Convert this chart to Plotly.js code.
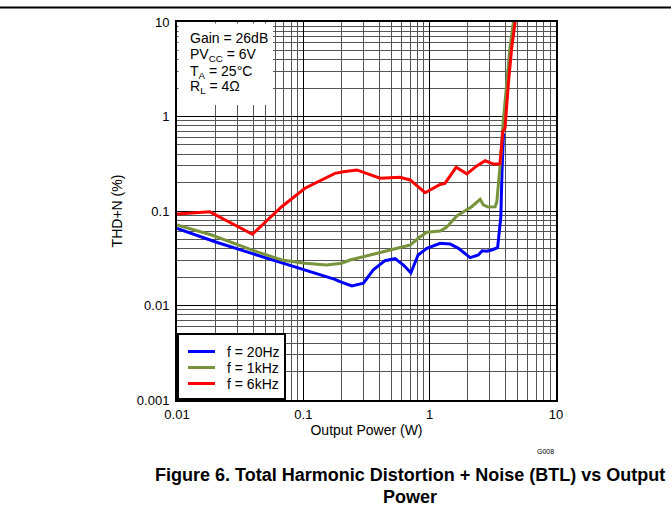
<!DOCTYPE html>
<html>
<head>
<meta charset="utf-8">
<script src="https://cdn.plot.ly/plotly-3.0.1.min.js"></script>
<style>
html,body{margin:0;padding:0;background:#fff;}
#chart{width:671px;height:512px;}
</style>
</head>
<body>
<div id="chart"></div>
<script>
// Series data (Output Power in W, THD+N in %)
const x20Hz = [0.01, 0.02, 0.039, 0.0675, 0.103, 0.178, 0.195, 0.242, 0.299, 0.358, 0.443, 0.532, 0.62, 0.71, 0.81, 0.95, 1.21, 1.45, 1.69, 2.09, 2.43, 2.60, 2.83, 3.10, 3.45, 3.66, 3.74, 3.84];
const y20Hz = [0.0656, 0.0473, 0.0356, 0.0284, 0.0238, 0.0189, 0.0179, 0.0161, 0.0172, 0.0238, 0.0298, 0.0313, 0.0268, 0.0222, 0.0342, 0.0403, 0.0455, 0.0448, 0.0403, 0.0321, 0.0342, 0.0380, 0.0375, 0.0387, 0.0410, 0.087, 0.272, 0.66];

const x1kHz = [0.01, 0.0188, 0.039, 0.0675, 0.103, 0.153, 0.201, 0.234, 0.338, 0.486, 0.70, 0.81, 0.95, 1.21, 1.36, 1.64, 1.91, 2.15, 2.51, 2.66, 2.90, 3.30, 3.40, 3.50, 3.66, 3.79, 4.03, 4.33, 4.6];
const y1kHz = [0.0711, 0.0557, 0.0387, 0.0303, 0.028, 0.0268, 0.028, 0.0303, 0.0342, 0.0387, 0.0436, 0.0514, 0.0596, 0.0614, 0.0672, 0.0885, 0.100, 0.111, 0.133, 0.116, 0.110, 0.111, 0.125, 0.181, 0.376, 0.78, 2.07, 5.48, 10];

const x6kHz = [0.01, 0.0182, 0.0395, 0.0674, 0.103, 0.178, 0.207, 0.265, 0.405, 0.583, 0.70, 0.92, 1.21, 1.32, 1.62, 1.97, 2.36, 2.75, 3.2, 3.6, 3.79, 3.95, 4.2, 4.47, 4.75];
const y6kHz = [0.093, 0.098, 0.0567, 0.111, 0.174, 0.25, 0.26, 0.272, 0.222, 0.228, 0.213, 0.156, 0.191, 0.196, 0.29, 0.247, 0.30, 0.34, 0.314, 0.314, 0.69, 0.755, 2.24, 5.48, 10];

const seriesNames = ['f = 20Hz', 'f = 1kHz', 'f = 6kHz'];
const seriesColors = ['#0000FF', '#77933C', '#FF0000'];

const xTickVals = [0.01, 0.1, 1, 10];
const xTickText = ['0.01', '0.1', '1', '10'];
const yTickVals = [0.001, 0.01, 0.1, 1, 10];
const yTickText = ['0.001', '0.01', '0.1', '1', '10'];

const xTitle = 'Output Power (W)';
const yTitle = 'THD+N (%)';
const condLines = ['Gain = 26dB', 'PV<sub>CC</sub> = 6V', 'T<sub>A</sub> = 25°C', 'R<sub>L</sub> = 4Ω'];
const captionLine1 = 'Figure 6. Total Harmonic Distortion + Noise (BTL) vs Output';
const captionLine2 = 'Power';
const figId = 'G008';

// minor grid positions (2..9 within each decade)
function minorVals(lo, hi) {
  const out = [];
  for (let e = lo; e < hi; e++) for (let d = 2; d <= 9; d++) out.push(d * Math.pow(10, e));
  return out;
}

const FONT = 'Arial, "Liberation Sans", sans-serif';

const xs = [x20Hz, x1kHz, x6kHz];
const ys = [y20Hz, y1kHz, y6kHz];
const traces = xs.map((x, i) => ({
  x: x, y: ys[i], type: 'scatter', mode: 'lines', name: seriesNames[i],
  line: {color: seriesColors[i], width: 3}, showlegend: false
}));

// pixel helpers relative to plot area (left 177, top 22, w 379, h 378)
const W = 379, H = 378, L = 177, T = 22;
const px = v => (v - L) / W;
const py = v => (T + H - v) / H;

const annotations = [];
const condY = [38.5, 55, 71.5, 87.5];
condLines.forEach((t, i) => annotations.push({
  xref: 'paper', yref: 'paper', x: px(188), y: py(condY[i]),
  xanchor: 'left', yanchor: 'middle', showarrow: false, text: t,
  font: {family: FONT, size: 14, color: '#000'}
}));

// manual legend (box, line samples, labels)
const legY = [351.5, 367.5, 383.5];
const shapes = [
  {type: 'rect', xref: 'paper', yref: 'paper', x0: px(178.5), x1: px(273), y0: py(105), y1: py(23.5),
   fillcolor: '#fff', line: {width: 0}, layer: 'above'},
  {type: 'line', xref: 'paper', yref: 'paper', x0: px(0), x1: px(671), y0: py(7.5), y1: py(7.5),
   line: {color: '#000', width: 2}},
  {type: 'rect', xref: 'paper', yref: 'paper', x0: px(178), x1: px(285), y0: py(399), y1: py(334),
   fillcolor: '#fff', line: {color: '#000', width: 2}, layer: 'above'}
];
seriesNames.forEach((n, i) => {
  shapes.push({type: 'line', xref: 'paper', yref: 'paper', x0: px(188), x1: px(215), y0: py(legY[i]), y1: py(legY[i]),
    line: {color: seriesColors[i], width: 3}, layer: 'above'});
  annotations.push({xref: 'paper', yref: 'paper', x: px(225), y: py(legY[i]), xanchor: 'left', yanchor: 'middle',
    showarrow: false, text: n, font: {family: FONT, size: 14, color: '#000'}});
});

annotations.push({xref: 'paper', yref: 'paper', x: px(410), y: py(475),
  xanchor: 'center', yanchor: 'middle', showarrow: false, text: '<b>' + captionLine1 + '</b>',
  font: {family: FONT, size: 18, color: '#000'}});
annotations.push({xref: 'paper', yref: 'paper', x: px(410), y: py(497),
  xanchor: 'center', yanchor: 'middle', showarrow: false, text: '<b>' + captionLine2 + '</b>',
  font: {family: FONT, size: 18, color: '#000'}});
annotations.push({xref: 'paper', yref: 'paper', x: px(556), y: py(451),
  xanchor: 'right', yanchor: 'middle', showarrow: false, text: figId,
  font: {family: FONT, size: 7, color: '#000'}});

const axisCommon = {
  type: 'log', showgrid: true, gridcolor: '#000', gridwidth: 1,
  showline: true, linecolor: '#000', linewidth: 2, mirror: true,
  ticks: '', zeroline: false, tickmode: 'array',
  tickfont: {family: FONT, size: 13, color: '#000'}
};

const layout = {
  width: 671, height: 512,
  margin: {l: 177, r: 115, t: 22, b: 112},
  paper_bgcolor: '#fff', plot_bgcolor: '#fff',
  font: {family: FONT, color: '#000'},
  showlegend: false,
  xaxis: Object.assign({}, axisCommon, {
    range: [-2, 1], tickvals: xTickVals, ticktext: xTickText,
    minor: {tickvals: minorVals(-2, 1), showgrid: true, gridcolor: '#555', gridwidth: 1, ticks: ''},
    title: {text: xTitle, font: {family: FONT, size: 14, color: '#000'}, standoff: 4},
    automargin: false, ticklabelstandoff: 1
  }),
  yaxis: Object.assign({}, axisCommon, {
    range: [-3, 1], tickvals: yTickVals, ticktext: yTickText,
    minor: {tickvals: minorVals(-3, 1), showgrid: true, gridcolor: '#555', gridwidth: 1, ticks: ''},
    title: {text: yTitle, font: {family: FONT, size: 14, color: '#000'}, standoff: 11},
    automargin: false, ticklabelstandoff: 3
  }),
  annotations: annotations,
  shapes: shapes
};

Plotly.newPlot('chart', traces, layout, {displayModeBar: false, staticPlot: true});
</script>
</body>
</html>
